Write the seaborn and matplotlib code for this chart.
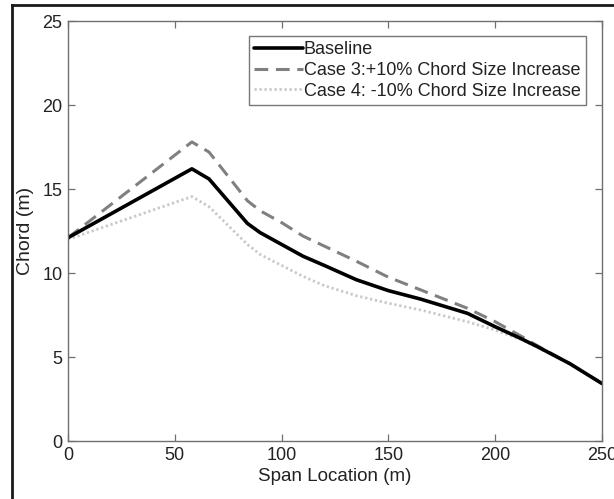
import matplotlib
matplotlib.use("Agg")
import matplotlib.pyplot as plt
import seaborn as sns
import pandas as pd
from matplotlib.lines import Line2D

# Spanwise stations (m)
span = [0, 58, 66, 84, 90, 100, 110, 120, 135, 150, 165, 187, 200, 212, 220, 235, 250]

# Chord distributions (m)
chord_baseline = [12.1, 16.2, 15.6, 12.95, 12.4, 11.7, 11.0, 10.45, 9.6, 8.95, 8.45, 7.6, 6.8, 6.1, 5.6, 4.6, 3.42]
chord_case3 = [12.1, 17.8, 17.2, 14.3, 13.7, 13.0, 12.2, 11.6, 10.7, 9.75, 9.0, 7.9, 7.1, 6.25, 5.65, 4.6, 3.42]
chord_case4 = [12.0, 14.55, 13.95, 11.7, 11.1, 10.45, 9.8, 9.25, 8.65, 8.2, 7.8, 7.1, 6.6, 6.05, 5.55, 4.6, 3.42]

labels = ["Baseline", "Case 3:+10% Chord Size Increase", "Case 4: -10% Chord Size Increase"]
x_ticks = [0, 50, 100, 150, 200, 250]
y_ticks = [0, 5, 10, 15, 20, 25]

sns.set_theme(style="white")
plt.rcParams["font.family"] = ["Liberation Sans", "DejaVu Sans"]

fig = plt.figure(figsize=(6.14, 4.99), dpi=100)
ax = fig.add_axes([68 / 614, 1 - 441 / 499, (602 - 68) / 614, (441 - 21) / 499])

styles = [
    dict(color="black", linewidth=2.6, linestyle="-"),
    dict(color="#808080", linewidth=2.2, linestyle=(0, (4.5, 2.5))),
    dict(color="#c8c8c8", linewidth=2.0, linestyle=(0, (0.8, 1.0))),
]
series = [chord_baseline, chord_case3, chord_case4]

# Draw the lines back to front so the baseline sits on top
for vals, lab, st in reversed(list(zip(series, labels, styles))):
    df = pd.DataFrame({"span": span, "chord": vals})
    sns.lineplot(data=df, x="span", y="chord", ax=ax, label=lab, legend=False, **st)

ax.set_xlim(0, 250)
ax.set_ylim(0, 25)
ax.set_xticks(x_ticks)
ax.set_yticks(y_ticks)
ax.set_xlabel("Span Location (m)", fontsize=13.5, color="#222222", labelpad=3)
ax.set_ylabel("Chord (m)", fontsize=14, color="#222222", labelpad=6)

for sp in ax.spines.values():
    sp.set_color("#707070")
    sp.set_linewidth(1.0)
    sp.set_visible(True)

ax.tick_params(axis="both", which="both", direction="in", length=5, width=0.9,
               color="#707070", labelsize=13, labelcolor="#222222",
               top=True, right=True, bottom=True, left=True, pad=4)

handles = [Line2D([], [], **st) for st in styles]
leg = ax.legend(handles, labels, loc="upper right", bbox_to_anchor=(0.970, 0.9645),
                fontsize=13, frameon=True, fancybox=False, handlelength=2.7,
                handletextpad=0.05, borderpad=0.3, labelspacing=0.2, borderaxespad=0)
leg.get_frame().set_edgecolor("#555555")
leg.get_frame().set_linewidth(1.0)
for t in leg.get_texts():
    t.set_color("#222222")

# Black frame along the left and top edges of the figure
fig.add_artist(Line2D([12 / 614, 12 / 614], [0, 1 - 5 / 499], transform=fig.transFigure,
                      color="#1a1a1a", linewidth=2.0, solid_capstyle="projecting"))
fig.add_artist(Line2D([12 / 614, 1], [1 - 5 / 499, 1 - 5 / 499], transform=fig.transFigure,
                      color="#1a1a1a", linewidth=2.0, solid_capstyle="projecting"))

fig.savefig("out.png", dpi=100)
